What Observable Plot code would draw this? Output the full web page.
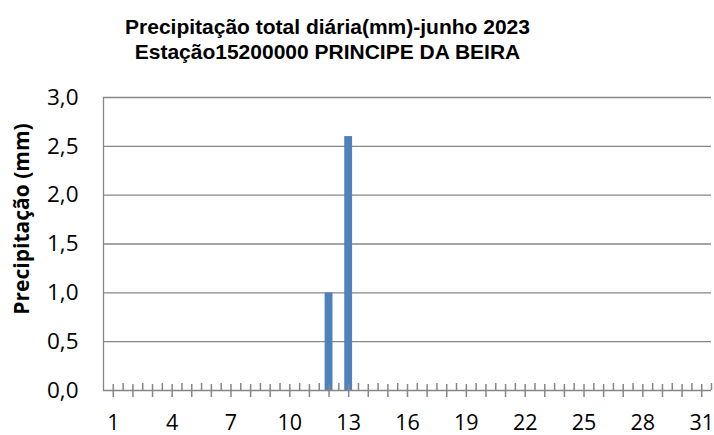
<!DOCTYPE html>
<html>
<head>
<meta charset="utf-8">
<script src="https://cdn.jsdelivr.net/npm/d3@7"></script>
<script src="https://cdn.jsdelivr.net/npm/@observablehq/plot@0.6"></script>
<style>
  html, body { margin: 0; padding: 0; background: #fff; }
  svg { display: block; }
</style>
</head>
<body>
<div id="chart"></div>
<script>
const titleLines = ["Precipitação total diária(mm)-junho 2023", "Estação15200000 PRINCIPE DA BEIRA"];
const yLabel = "Precipitação (mm)";
const days = d3.range(1, 32);
const rainDays = [12, 13];
const rainValues = [1.0, 2.6];
const xTickLabels = [1, 4, 7, 10, 13, 16, 19, 22, 25, 28, 31];
const yTickValues = [0, 0.5, 1.0, 1.5, 2.0, 2.5, 3.0];

const data = rainDays.map((d, i) => ({day: d, value: rainValues[i]}));
const boundaries = days.map(d => d + 0.5);
const fmt = v => v.toFixed(1).replace(".", ",");

const gray = "#868686";
const font = "Open Sans";

const chart = Plot.plot({
  width: 714,
  height: 435,
  marginLeft: 103,
  marginRight: 3,
  marginTop: 97,
  marginBottom: 45,
  style: {fontFamily: font, background: "#fff"},
  x: {domain: [0.5, 31.5], axis: null},
  y: {domain: [0, 3], axis: null},
  marks: [
    Plot.ruleY(yTickValues.filter(v => v > 0), {y: d => d, stroke: gray, strokeWidth: 1.3, strokeOpacity: 1}),
    Plot.rectY(data, {x1: d => d.day - 0.2, x2: d => d.day + 0.2, y1: 0, y2: "value", fill: "#4F81BD"}),
    Plot.ruleY([0], {stroke: gray, strokeWidth: 1.3}),
    Plot.ruleX([0.5], {stroke: gray, strokeWidth: 1.3}),
    Plot.ruleX(days, {x: d => d, y1: 0, y2: 0, insetTop: -6, insetBottom: -7, stroke: gray, strokeWidth: 1.5}),
    Plot.ruleX(boundaries, {x: d => d, y1: 0, y2: 0, insetTop: -7, stroke: gray, strokeWidth: 1.5}),
    Plot.text(yTickValues, {y: d => d, text: fmt, frameAnchor: "left", textAnchor: "end", dx: -25, fontSize: 22.5, fill: "#000"}),
    Plot.text(xTickLabels, {x: d => d, text: d => String(d), frameAnchor: "bottom", lineAnchor: "middle", dy: 33, fontSize: 21.5, fill: "#000"}),
    Plot.text([yLabel], {text: d => d, frameAnchor: "left", textAnchor: "middle", lineAnchor: "middle", rotate: -90, dx: -81, dy: -25, fontSize: 21, fontWeight: "bold", fill: "#000"}),
    Plot.text([titleLines[0]], {text: d => d, frameAnchor: "top", lineAnchor: "middle", dx: -80, dy: -70, fontSize: 21, fontWeight: "bold", fill: "#000", fontFamily: "Liberation Sans"}),
    Plot.text([titleLines[1]], {text: d => d, frameAnchor: "top", lineAnchor: "middle", dx: -80, dy: -45, fontSize: 21, fontWeight: "bold", fill: "#000", fontFamily: "Liberation Sans"})
  ]
});
document.getElementById("chart").appendChild(chart);
</script>
</body>
</html>
